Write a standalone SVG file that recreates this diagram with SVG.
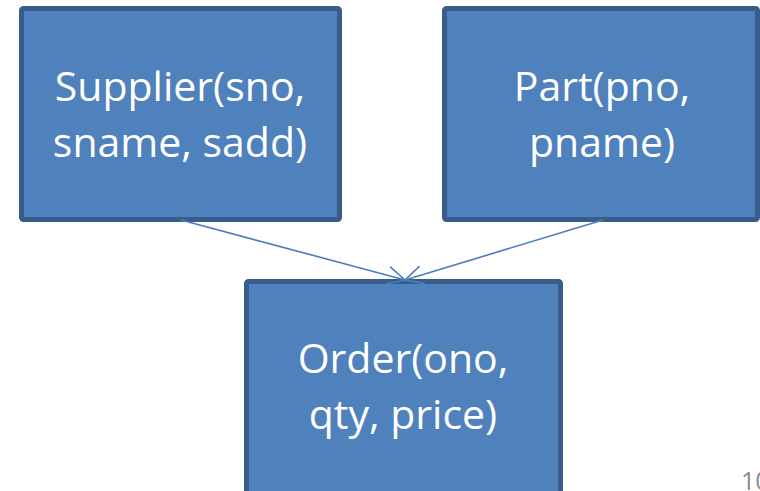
<svg xmlns="http://www.w3.org/2000/svg" width="760" height="491" viewBox="0 0 760 491">
  <style>
    .box { fill: #4f81bd; stroke: #385d8a; stroke-width: 5; }
    .label { font-family: "Open Sans", "Liberation Sans", sans-serif; font-size: 41px; fill: #ffffff; text-anchor: middle; }
    .edge { stroke: #4a7ebb; stroke-width: 1.6; fill: none; }
    .pageno { font-family: "Open Sans", "Liberation Sans", sans-serif; font-size: 25px; fill: #8c8c8c; }
  </style>
  <defs>
    <marker id="open-arrow" viewBox="0 0 20 20" markerUnits="userSpaceOnUse" markerWidth="20" markerHeight="20" refX="18" refY="10" orient="auto">
      <path d="M0,1 L18,10 L0,19" fill="none" stroke="#4a7ebb" stroke-width="1.6"/>
    </marker>
  </defs>
  <rect width="760" height="491" fill="#ffffff"/>

  <g id="supplier">
    <rect class="box" x="21.5" y="8.5" width="318" height="211" rx="2"/>
    <text class="label" x="180" y="101">Supplier(sno,</text>
    <text class="label" x="180" y="157">sname, sadd)</text>
  </g>

  <g id="part">
    <rect class="box" x="444.5" y="8.5" width="313" height="211" rx="2"/>
    <text class="label" x="602" y="101">Part(pno,</text>
    <text class="label" x="602" y="157">pname)</text>
  </g>

  <g id="order">
    <rect class="box" x="246.5" y="281.5" width="314" height="225" rx="2"/>
    <text class="label" x="403" y="373">Order(ono,</text>
    <text class="label" x="403" y="429">qty, price)</text>
  </g>

  <g id="connectors">
    <line class="edge" x1="181" y1="220" x2="405" y2="280" marker-end="url(#open-arrow)"/>
    <line class="edge" x1="603" y1="220" x2="405" y2="280" marker-end="url(#open-arrow)"/>
  </g>

  <text class="pageno" x="741" y="490">10</text>
</svg>
